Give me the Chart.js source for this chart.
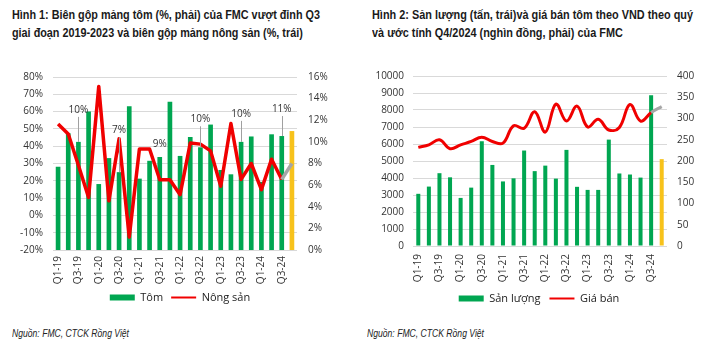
<!DOCTYPE html>
<html>
<head>
<meta charset="utf-8">
<script src="https://cdn.jsdelivr.net/npm/chart.js@4.4.1/dist/chart.umd.min.js"></script>
<style>
  body { margin: 0; background: #fff; width: 718px; height: 351px; position: relative; overflow: hidden; }
  .title { position: absolute; top: 6px; font-family: "Liberation Sans", Arial, sans-serif; font-weight: bold; font-size: 13px; line-height: 18px; color: #1a1a1a; white-space: nowrap; transform-origin: left top; }
  .title span { display: inline-block; }
  .src { position: absolute; top: 327px; font-family: "Liberation Sans", Arial, sans-serif; font-style: italic; font-size: 11px; color: #222; white-space: nowrap; transform-origin: left top; }
  .box { position: absolute; top: 60px; }
</style>
</head>
<body>
<div class="title" id="t1" style="left:12px"><span>Hình 1: Biên gộp mảng tôm (%, phải) của FMC vượt đỉnh Q3</span><br><span>giai đoạn 2019-2023 và biên gộp mảng nông sản (%, trái)</span></div>
<div class="title" id="t2" style="left:372px"><span>Hình 2: Sản lượng (tấn, trái)và giá bán tôm theo VND theo quý</span><br><span>và ước tính Q4/2024 (nghìn đồng, phải) của FMC</span></div>
<div class="box" style="left:0; width:360px; height:253px"><canvas id="c1"></canvas></div>
<div class="box" style="left:360px; width:358px; height:254px"><canvas id="c2"></canvas></div>
<div class="src" id="s1" style="left:12px">Nguồn: FMC, CTCK Rồng Việt</div>
<div class="src" id="s2" style="left:367px">Nguồn: FMC, CTCK Rồng Việt</div>
<script>
const quarters = ['Q1-19','Q2-19','Q3-19','Q4-19','Q1-20','Q2-20','Q3-20','Q4-20',
  'Q1-21','Q2-21','Q3-21','Q4-21','Q1-22','Q2-22','Q3-22','Q4-22',
  'Q1-23','Q2-23','Q3-23','Q4-23','Q1-24','Q2-24','Q3-24','Q4-24'];

// Hinh 1: bien gop tom (%, truc phai) va nong san (%, truc trai)
const tomMargin = [7.7, 10.8, 10.0, 12.8, 6.1, 8.5, 7.2, 13.3, 6.6, 8.25, 8.6, 13.7,
  8.7, 10.45, 9.5, 11.6, 7.4, 7.0, 10.0, 10.5, 6.3, 10.7, 10.54, 11.0];
const nongSanMargin = [52.9, 47.1, 29, 10.4, 74.5, 8.4, 44.3, -12.5, 38.4, 38.4, 20.6, 20.6,
  12, 41.8, 41.2, 37.3, 16.9, 53.1, 20.8, 30, 14.9, 32.5, 20.8, 30];
const leftTicks = { min: -20, max: 80, step: 10 };
const rightTicks = { min: 0, max: 16, step: 2 };

// Hinh 2: san luong (tan) va gia ban (nghin dong/kg)
const sanLuong = [3070, 3495, 4283, 4040, 2828, 3434, 6162, 4768, 3798, 3980, 5616, 4404,
  4728, 3964, 5654, 3481, 3300, 3300, 6258, 4266, 4205, 4024, 8873, 5110];
const giaBan = [232, 238, 250, 229, 238, 246, 256, 246, 242, 283, 277, 316,
  268, 334, 294, 329, 280, 298, 273, 279, 333, 294, 314, 328];

// narrow the headline / source text to the width of the original condensed font
function fit(el, target, measure) {
  const w = (measure || el).getBoundingClientRect().width;
  el.style.transform = 'scaleX(' + (target / w) + ')';
}
fit(document.getElementById('t1'), 308, document.querySelector('#t1 span'));
fit(document.getElementById('t2'), 321, document.querySelector('#t2 span'));
fit(document.getElementById('s1'), 117);
fit(document.getElementById('s2'), 117);

const GREEN = '#00a651', YELLOW = '#f7c21b', RED = '#f00000', GREY = '#a6a6a6';
const tickFont = { family: '"Open Sans", sans-serif', size: 10 };
const last = quarters.length - 1;
const barColors = quarters.map((q, i) => i === last ? YELLOW : GREEN);

const barLabels = {
  id: 'barLabels',
  afterDatasetsDraw(chart, args, opts) {
    if (!opts.items) return;
    const ctx = chart.ctx;
    const meta = chart.getDatasetMeta(0);
    ctx.save();
    ctx.font = '10px "Open Sans", sans-serif';
    ctx.fillStyle = '#333';
    ctx.textAlign = 'center';
    ctx.textBaseline = 'middle';
    ctx.strokeStyle = '#a0a0a0';
    ctx.lineWidth = 1;
    opts.items.forEach(([i, dy]) => {
      const bar = meta.data[i];
      const y = bar.y - dy;
      ctx.fillText(Math.round(tomMargin[i]) + '%', bar.x, y);
      if (dy > 18) {
        ctx.beginPath();
        ctx.moveTo(Math.round(bar.x) + 0.5, y + 7);
        ctx.lineTo(Math.round(bar.x) + 0.5, bar.y);
        ctx.stroke();
      }
    });
    ctx.restore();
  }
};

function legendOpts(pad) {
  return {
    position: 'bottom',
    labels: {
      usePointStyle: true,
      pointStyleWidth: 25,
      boxHeight: 6,
      padding: pad,
      color: '#222',
      font: { family: '"Open Sans", sans-serif', size: 11 },
      sort: (a, b) => a.datasetIndex - b.datasetIndex,
      generateLabels: chart => Chart.defaults.plugins.legend.labels.generateLabels(chart).map(l => {
        if (l.pointStyle === 'line') l.lineWidth = 2;
        return l;
      })
    }
  };
}

function xAxis(h, pad) {
  return {
    grid: { display: false, drawTicks: false },
    border: { display: false },
    ticks: {
      autoSkip: false, maxRotation: 90, minRotation: 90, padding: pad,
      color: '#333', font: tickFont,
      callback: (v, i) => i % 2 === 0 ? quarters[i] : ''
    },
    afterFit: s => { s.height = h; }
  };
}

new Chart(document.getElementById('c1'), {
  type: 'bar',
  plugins: [barLabels],
  data: {
    labels: quarters,
    datasets: [
      {
        label: 'Tôm',
        data: tomMargin,
        yAxisID: 'yR',
        backgroundColor: barColors,
        barPercentage: 0.46,
        categoryPercentage: 1,
        pointStyle: 'rect',
        order: 2
      },
      {
        type: 'line',
        label: 'Nông sản',
        data: nongSanMargin,
        yAxisID: 'yL',
        borderColor: RED,
        backgroundColor: RED,
        borderWidth: 3.5,
        pointRadius: 0,
        tension: 0,
        pointStyle: 'line',
        borderJoinStyle: 'round',
        segment: { borderColor: c => c.p1DataIndex === last ? GREY : RED },
        order: 1
      }
    ]
  },
  options: {
    responsive: true,
    maintainAspectRatio: false,
    animation: false,
    layout: { padding: { top: 12, left: 0, right: 0, bottom: 0 } },
    plugins: {
      legend: legendOpts(8),
      tooltip: { enabled: false },
      barLabels: { items: [[2, 32], [6, 42], [10, 13], [14, 28], [18, 28], [22, 27]] }
    },
    scales: {
      x: xAxis(34, 6),
      yL: {
        position: 'left', min: leftTicks.min, max: leftTicks.max,
        ticks: { stepSize: leftTicks.step, callback: v => v + '%', padding: 10, color: '#333', font: tickFont },
        grid: { color: '#d9d9d9', drawTicks: false },
        border: { display: false },
        afterFit: s => { s.width = 53; }
      },
      yR: {
        position: 'right', min: rightTicks.min, max: rightTicks.max,
        ticks: { stepSize: rightTicks.step, callback: v => v + '%', padding: 11, color: '#333', font: tickFont },
        grid: { display: false, drawTicks: false },
        border: { display: false },
        afterFit: s => { s.width = 63; }
      }
    }
  }
});

new Chart(document.getElementById('c2'), {
  type: 'bar',
  data: {
    labels: quarters,
    datasets: [
      {
        label: 'Sản lượng',
        data: sanLuong,
        yAxisID: 'yL',
        backgroundColor: barColors,
        barPercentage: 0.38,
        categoryPercentage: 1,
        pointStyle: 'rect',
        order: 2
      },
      {
        type: 'line',
        label: 'Giá bán',
        data: giaBan,
        yAxisID: 'yR',
        borderColor: RED,
        backgroundColor: RED,
        borderWidth: 3,
        pointRadius: 0,
        tension: 0.4,
        pointStyle: 'line',
        segment: { borderColor: c => c.p1DataIndex === last ? GREY : RED },
        order: 1
      }
    ]
  },
  options: {
    responsive: true,
    maintainAspectRatio: false,
    animation: false,
    layout: { padding: { top: 12, left: 0, right: 0, bottom: 0 } },
    plugins: {
      legend: legendOpts(9),
      tooltip: { enabled: false }
    },
    scales: {
      x: xAxis(38, 8),
      yL: {
        position: 'left', min: 0, max: 10000,
        ticks: { stepSize: 1000, callback: v => String(v), padding: 9, color: '#333', font: tickFont },
        grid: { color: '#d9d9d9', drawTicks: false },
        border: { display: false },
        afterFit: s => { s.width = 53; }
      },
      yR: {
        position: 'right', min: 0, max: 400,
        ticks: { stepSize: 50, padding: 10, color: '#333', font: tickFont },
        grid: { display: false, drawTicks: false },
        border: { display: false },
        afterFit: s => { s.width = 51; }
      }
    }
  }
});
</script>
</body>
</html>
